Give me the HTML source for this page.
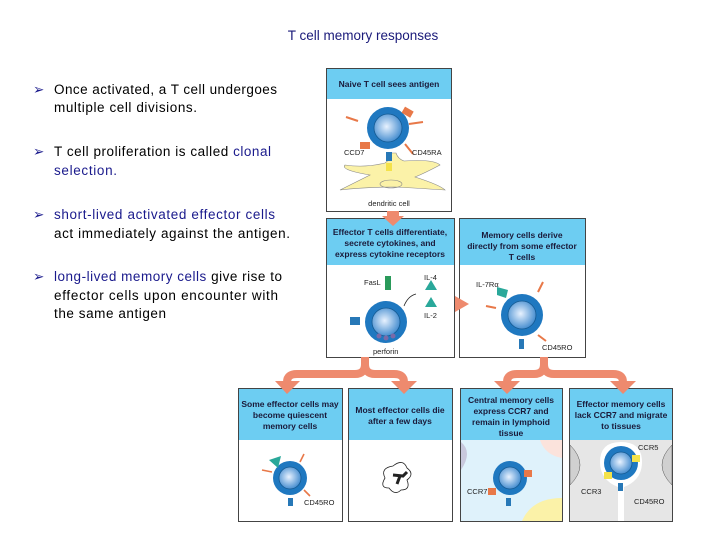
<!DOCTYPE html>
<html><head><meta charset="utf-8"><style>
html,body{margin:0;padding:0;background:#fff;}
svg{display:block;font-family:"Liberation Sans",sans-serif;}
.t{font-size:13.5px;fill:#000;}
.b{fill:#1a1a8c;}
.h{font-size:8.5px;font-weight:bold;fill:#1a1a3a;text-anchor:middle;}
.l{font-size:7.5px;fill:#222;}
</style></head><body>
<svg width="720" height="540" viewBox="0 0 720 540">
<defs>
<radialGradient id="g" cx="0.45" cy="0.45" r="0.6"><stop offset="0" stop-color="#e8f2ff"/><stop offset="1" stop-color="#3a86cc"/></radialGradient>
<g id="cell"><circle r="17" fill="#1f78c0"/><circle r="11" fill="url(#g)" stroke="#155a92" stroke-width="0.8"/></g>
<g id="bigcell"><circle r="21" fill="#1f78c0"/><circle r="14" fill="url(#g)" stroke="#155a92" stroke-width="0.8"/></g>
</defs>
<text x="363" y="40" text-anchor="middle" style="font-size:13.5px;fill:#1a1a7a">T cell memory responses</text>
<g class="t">
<text x="33" y="94" class="b">➢</text><text x="54" y="94" textLength="223" lengthAdjust="spacing">Once activated, a T cell undergoes</text>
<text x="54" y="112" textLength="143" lengthAdjust="spacing">multiple cell divisions.</text>
<text x="33" y="156" class="b">➢</text><text x="54" y="156" textLength="217" lengthAdjust="spacing">T cell proliferation is called <tspan class="b">clonal</tspan></text>
<text x="54" y="175" class="b" textLength="63" lengthAdjust="spacing">selection.</text>
<text x="33" y="219" class="b">➢</text><text x="54" y="219" class="b" textLength="221" lengthAdjust="spacing">short-lived activated effector cells</text>
<text x="54" y="238" textLength="236" lengthAdjust="spacing">act immediately against the antigen.</text>
<text x="33" y="281" class="b">➢</text><text x="54" y="281" textLength="228" lengthAdjust="spacing"><tspan class="b">long-lived memory cells</tspan> give rise to</text>
<text x="54" y="300" textLength="224" lengthAdjust="spacing">effector cells upon encounter with</text>
<text x="54" y="318" textLength="112" lengthAdjust="spacing">the same antigen</text>
</g>
<!-- panel 1 -->
<rect x="326.5" y="68.5" width="125" height="143" fill="#fff" stroke="#444"/>
<rect x="327" y="69" width="124" height="30" fill="#6dcdf2"/>
<text x="389" y="87" class="h">Naive T cell sees antigen</text>
<path d="M340,190 q20,-10 30,-15 q-30,-5 -25,-10 q20,3 40,-2 q5,-3 5,-10 h6 q2,6 8,8 q30,-2 36,4 q-15,8 -25,12 q25,8 30,13 q-30,-2 -50,-3 q-30,0 -55,3z" fill="#fbf2a8" stroke="#888" stroke-width="0.6"/>
<ellipse cx="391" cy="184" rx="11" ry="4" fill="none" stroke="#888" stroke-width="0.6"/>
<rect x="386" y="163" width="6" height="8" fill="#f4e24a"/>
<rect x="386" y="152" width="6" height="9" fill="#2778b7"/>
<use href="#bigcell" x="388" y="128"/>
<rect x="402" y="108" width="10" height="7" fill="#e87848" transform="rotate(30 406 113)"/>
<rect x="360" y="142" width="10" height="7" fill="#e87848"/>
<path d="M409,124 l14,-2 M346,117 l12,4 M405,144 l8,10" stroke="#e87848" stroke-width="2"/>
<text x="344" y="155" class="l">CCD7</text><text x="412" y="155" class="l">CD45RA</text>
<text x="389" y="206" class="l" text-anchor="middle">dendritic cell</text>
<!-- panel 2 -->
<rect x="326.5" y="218.5" width="128" height="139" fill="#fff" stroke="#444"/>
<rect x="327" y="219" width="127" height="46" fill="#6dcdf2"/>
<text x="390" y="235" class="h">Effector T cells differentiate,</text>
<text x="390" y="246" class="h">secrete cytokines, and</text>
<text x="390" y="257" class="h">express cytokine receptors</text>
<rect x="385" y="276" width="6" height="14" fill="#2a9a5a"/>
<use href="#bigcell" x="386" y="322"/>
<rect x="350" y="317" width="10" height="8" fill="#2778b7"/>
<g fill="#7a6aa8"><circle cx="379" cy="336" r="2.5"/><circle cx="386" cy="338" r="2.5"/><circle cx="393" cy="336" r="2.5"/></g>
<path d="M404,306 q4,-10 12,-12" stroke="#222" fill="none" stroke-width="0.8"/>
<polygon points="431,280 437,290 425,290" fill="#2aa89a"/><polygon points="431,297 437,307 425,307" fill="#2aa89a"/>
<text x="364" y="285" class="l">FasL</text><text x="424" y="280" class="l">IL-4</text><text x="424" y="318" class="l">IL-2</text>
<text x="373" y="354" class="l">perforin</text>
<!-- panel 3 -->
<rect x="459.5" y="218.5" width="126" height="139" fill="#fff" stroke="#444"/>
<rect x="460" y="219" width="125" height="46" fill="#6dcdf2"/>
<text x="522" y="238" class="h">Memory cells derive</text>
<text x="522" y="249" class="h">directly from some effector</text>
<text x="522" y="260" class="h">T cells</text>
<use href="#bigcell" x="522" y="315"/>
<polygon points="497,287 508,290 506,298 497,295" fill="#2aa89a"/>
<path d="M486,306 l10,2 M538,292 l5,-10 M538,335 l8,6" stroke="#e87848" stroke-width="2"/>
<rect x="519" y="339" width="5" height="10" fill="#2778b7"/>
<text x="476" y="287" class="l">IL-7Rα</text><text x="542" y="350" class="l">CD45RO</text>
<!-- bottom panels -->
<rect x="238.5" y="388.5" width="104" height="133" fill="#fff" stroke="#444"/>
<rect x="239" y="389" width="103" height="51" fill="#6dcdf2"/>
<text x="290" y="407" class="h">Some effector cells may</text><text x="290" y="418" class="h">become quiescent</text><text x="290" y="429" class="h">memory cells</text>
<use href="#cell" x="290" y="478"/>
<polygon points="269,460 281,456 278,468" fill="#2aa89a"/>
<path d="M262,470 l10,2 M300,462 l4,-8 M304,490 l6,6" stroke="#e87848" stroke-width="1.6"/>
<rect x="288" y="498" width="5" height="8" fill="#2778b7"/>
<text x="304" y="505" class="l">CD45RO</text>

<rect x="348.5" y="388.5" width="104" height="133" fill="#fff" stroke="#444"/>
<rect x="349" y="389" width="103" height="51" fill="#6dcdf2"/>
<text x="400" y="413" class="h">Most effector cells die</text><text x="400" y="424" class="h">after a few days</text>
<path d="M385,478 q-5,-10 8,-12 q10,-8 14,2 q8,6 0,12 q4,10 -6,10 q-6,6 -12,-2 q-10,0 -4,-10z" fill="#fff" stroke="#222" stroke-width="0.8"/>
<path d="M393,475 l10,1 l4,-4 M400,476 l-3,8" stroke="#222" stroke-width="3" fill="none"/>

<rect x="460.5" y="388.5" width="102" height="133" fill="#dff2fb" stroke="#444"/>
<rect x="461" y="389" width="101" height="51" fill="#6dcdf2"/>
<text x="511" y="403" class="h">Central memory cells</text><text x="511" y="414" class="h">express CCR7 and</text><text x="511" y="425" class="h">remain in lymphoid</text><text x="511" y="436" class="h">tissue</text>
<path d="M562,498 q-30,0 -40,23 h40z" fill="#fbf2a8"/>
<path d="M540,440 q5,15 22,18 v-18z" fill="#fbe3dc"/>
<path d="M461,442 q12,10 0,28z" fill="#c8c8dc"/>
<use href="#cell" x="510" y="478"/>
<rect x="524" y="470" width="8" height="7" fill="#e87848"/><rect x="488" y="488" width="8" height="7" fill="#e87848"/>
<rect x="506" y="498" width="5" height="8" fill="#2778b7"/>
<text x="467" y="494" class="l">CCR7</text>

<rect x="569.5" y="388.5" width="103" height="133" fill="#e6e6e6" stroke="#444"/>
<rect x="570" y="389" width="102" height="51" fill="#6dcdf2"/>
<text x="621" y="407" class="h">Effector memory cells</text><text x="621" y="418" class="h">lack CCR7 and migrate</text><text x="621" y="429" class="h">to tissues</text>
<path d="M570,445 q20,20 0,40z M672,445 q-20,20 0,40z" fill="#d0d0d0" stroke="#555" stroke-width="0.5"/>
<path d="M600,462 q0,-20 21,-20 q21,0 21,20 q0,18 -18,25 v34 h-6 v-34 q-18,-7 -18,-25z" fill="#fff"/>
<use href="#cell" x="621" y="463"/>
<rect x="632" y="455" width="8" height="7" fill="#f4e24a"/><rect x="604" y="472" width="8" height="7" fill="#f4e24a"/>
<rect x="618" y="483" width="5" height="8" fill="#2778b7"/>
<text x="638" y="450" class="l">CCR5</text><text x="581" y="494" class="l">CCR3</text><text x="634" y="504" class="l">CD45RO</text>
<!-- arrows on top -->
<g fill="#ee8a6e">
<polygon points="387,211 399,211 399,216 404,216 393,226 382,216 387,216"/>
<polygon points="455,296 469,304 455,312"/>
</g>
<g fill="none" stroke="#ee8a6e" stroke-width="8">
<path d="M365,357 V364 Q365,374 355,374 H297 Q287,374 287,382"/>
<path d="M365,364 Q365,374 375,374 H394 Q404,374 404,382"/>
<path d="M544,357 V364 Q544,374 534,374 H517 Q507,374 507,382"/>
<path d="M544,364 Q544,374 554,374 H613 Q623,374 623,382"/>
</g>
<g fill="#ee8a6e">
<polygon points="275,381 300,381 287,394"/>
<polygon points="391,381 417,381 404,394"/>
<polygon points="494,381 520,381 507,394"/>
<polygon points="610,381 636,381 623,394"/>
</g>
</svg>
</body></html>
